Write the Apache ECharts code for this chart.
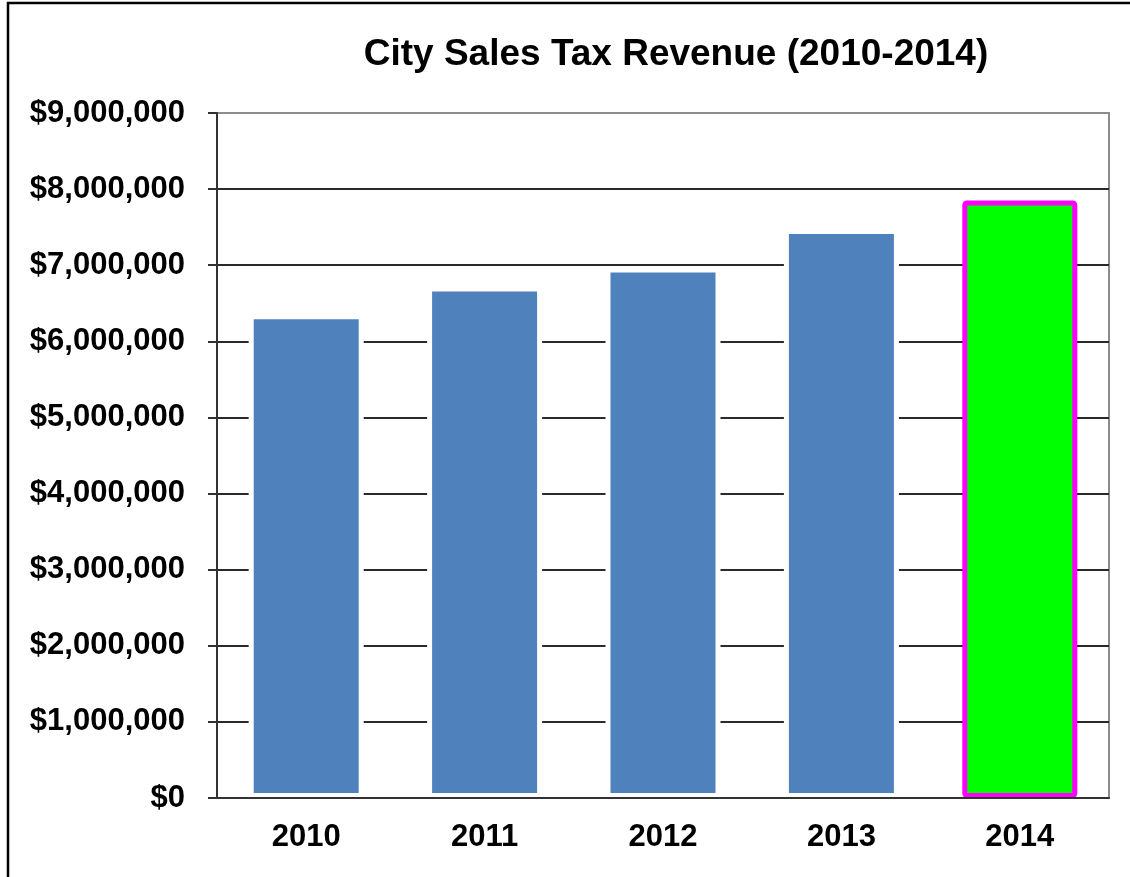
<!DOCTYPE html>
<html>
<head>
<meta charset="utf-8">
<script src="https://cdn.jsdelivr.net/npm/echarts@6/dist/echarts.min.js"></script>
<style>
  html, body { margin: 0; padding: 0; background: #fff; }
  #chart { width: 1130px; height: 877px; }
</style>
</head>
<body>
<div id="chart"></div>
<script>
var years = ['2010', '2011', '2012', '2013', '2014'];
var revenue = [6355000, 6720000, 6970000, 7475000, 7850000];
var highlightYear = '2014';

var chart = echarts.init(document.getElementById('chart'));
var font = '"Liberation Sans", Arial, sans-serif';

var barData = revenue.map(function (v, i) {
    if (years[i] === highlightYear) {
        return {
            value: v,
            itemStyle: { color: '#00ff00', borderColor: '#ff00ff', borderWidth: 5, borderRadius: 2 }
        };
    }
    return v;
});

var option = {
    animation: false,
    title: {
        text: 'City Sales Tax Revenue (2010-2014)',
        left: 671,
        textAlign: 'center',
        top: 31,
        textStyle: { fontFamily: font, fontSize: 37, fontWeight: 'bold', color: '#000' }
    },
    graphic: [{
        type: 'rect',
        shape: { x: 8, y: 3, width: 1200, height: 1000 },
        style: { fill: 'none', stroke: '#000', lineWidth: 2.5 },
        z: 10
    }],
    grid: {
        left: 217, right: 21, top: 113, bottom: 79,
        show: true, borderColor: '#8c8c8c', borderWidth: 2
    },
    xAxis: {
        type: 'category',
        data: years,
        z: 3,
        axisLine: { lineStyle: { color: '#333', width: 2 } },
        axisTick: { length: 11, lineStyle: { color: '#333', width: 2 } },
        axisLabel: { fontFamily: font, fontSize: 31, fontWeight: 'bold', color: '#000', margin: 24 }
    },
    yAxis: {
        type: 'value',
        min: 0, max: 9000000, interval: 1000000,
        axisLine: { show: true, lineStyle: { color: '#333', width: 2 } },
        axisTick: { show: true, length: 9, lineStyle: { color: '#333', width: 2 } },
        splitLine: { show: true, showMaxLine: false, lineStyle: { color: '#2a2a2a', width: 2 } },
        axisLabel: {
            fontFamily: font, fontSize: 31, fontWeight: 'bold', color: '#000', margin: 32,
            formatter: function (v) { return '$' + v.toLocaleString('en-US'); }
        }
    },
    series: [{
        type: 'bar',
        data: barData,
        barWidth: 115,
        itemStyle: { color: '#4f81bd', borderColor: '#fff', borderWidth: 5 }
    }]
};

chart.setOption(option);
</script>
</body>
</html>
